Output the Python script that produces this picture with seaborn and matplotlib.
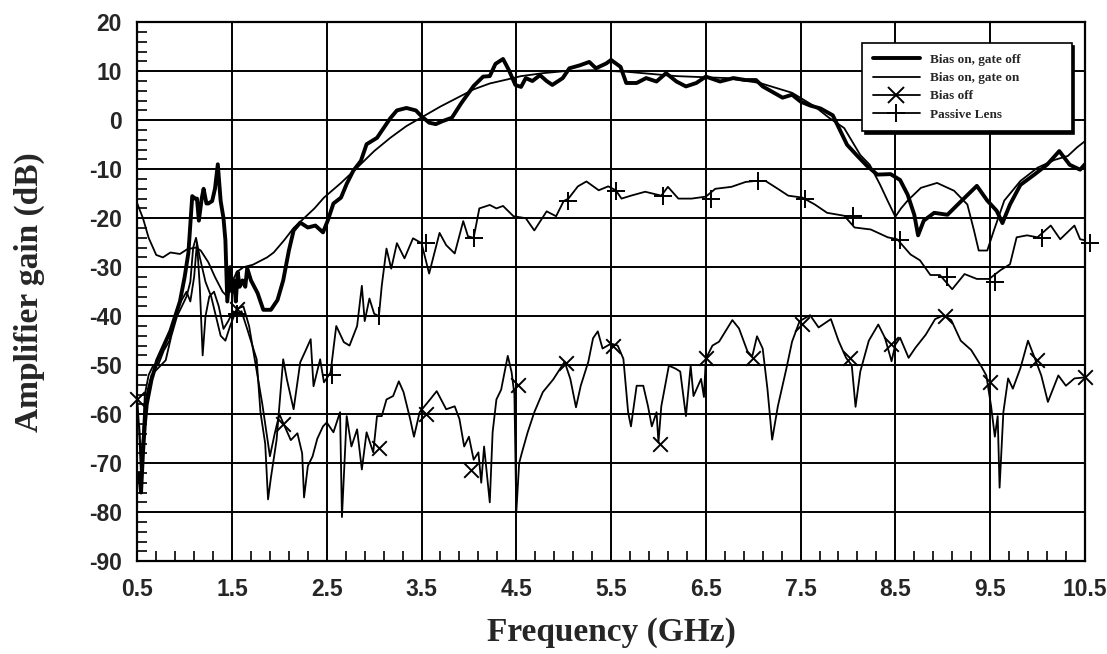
import numpy as np
import pandas as pd
import matplotlib.pyplot as plt
import seaborn as sns
from matplotlib.lines import Line2D
from matplotlib.ticker import FixedLocator

# Bias on, gate off (thick trace)
gate_off_f = [0.52, 0.54, 0.56, 0.58, 0.60, 0.65, 0.71, 0.78, 0.85, 0.90, 0.95, 1.00, 1.04, 1.08,
              1.11, 1.13, 1.15, 1.18, 1.20, 1.23, 1.25, 1.29, 1.32, 1.35, 1.38, 1.41, 1.43, 1.45,
              1.48, 1.50, 1.52, 1.54, 1.56, 1.58, 1.61, 1.64, 1.66, 1.70, 1.77, 1.83, 1.91, 1.98,
              2.04, 2.10, 2.15, 2.22, 2.30, 2.38, 2.46, 2.51, 2.57, 2.65, 2.71, 2.78, 2.86, 2.92,
              3.03, 3.10, 3.17, 3.24, 3.34, 3.44, 3.50, 3.58, 3.65, 3.72, 3.82, 3.92, 4.05, 4.15,
              4.22, 4.28, 4.36, 4.42, 4.49, 4.55, 4.60, 4.67, 4.75, 4.82, 4.88, 4.99, 5.06, 5.17,
              5.27, 5.34, 5.45, 5.50, 5.60, 5.66, 5.77, 5.87, 5.98, 6.08, 6.19, 6.29, 6.40, 6.50,
              6.65, 6.79, 6.92, 7.03, 7.10, 7.20, 7.31, 7.41, 7.50, 7.60, 7.71, 7.84, 7.92, 7.99,
              8.10, 8.20, 8.31, 8.45, 8.55, 8.63, 8.70, 8.74, 8.80, 8.91, 9.05, 9.18, 9.36, 9.47,
              9.57, 9.63, 9.71, 9.82, 9.96, 10.10, 10.23, 10.34, 10.45, 10.50]
gate_off_db = [-72, -76, -68, -62, -58, -53, -49, -46, -43, -40, -37, -32, -27, -15.5,
               -16, -16, -20.5, -16, -14, -17, -17, -16.5, -14, -9, -16.5, -20, -24.5, -37,
               -30, -35, -32.7, -37, -31, -34, -32.7, -34, -30.2, -32.7, -35.3, -38.7, -38.7, -36.7,
               -32.7, -26.6, -22.5, -20.9, -21.9, -21.5, -22.9, -20.5, -17, -15.8, -13, -10.3, -8.3, -4.9,
               -3.6, -1.6, 0.4, 2, 2.5, 2.0, 0.8, -0.5, -0.8, -0.2, 0.5, 3.5, 7, 8.9,
               9, 11.5, 12.5, 10.3, 7.2, 6.8, 8.6, 8, 9.2, 8, 7.2, 8.6, 10.6, 11.2,
               11.9, 10.6, 11.6, 12.3, 10.9, 7.6, 7.6, 8.6, 7.9, 9.6, 7.9, 6.9, 7.6, 8.9,
               7.9, 8.6, 8.2, 8.2, 6.9, 5.8, 4.6, 5.2, 3.8, 3.0, 2.4, 1, -2.2, -5,
               -7.3, -9.3, -11.1, -11, -12.2, -15.2, -19.3, -23.5, -20.5, -18.9, -19.3, -16.8, -13.4, -16.4,
               -18.5, -21, -17.2, -13.2, -11.2, -9.1, -6.3, -9.1, -10.1, -9]

# Bias on, gate on (thin smooth trace)
gate_on_f = [0.50, 0.56, 0.62, 0.70, 0.77, 0.85, 0.95, 1.03, 1.12, 1.17, 1.25, 1.32, 1.40, 1.45,
             1.50, 1.55, 1.62, 1.72, 1.87, 1.94, 2.05, 2.15, 2.26, 2.37, 2.47, 2.65, 2.82, 3.00,
             3.17, 3.34, 3.52, 3.70, 3.87, 4.05, 4.22, 4.40, 4.55, 4.78, 5.00, 5.30, 5.66, 6.19,
             6.72, 7.07, 7.41, 7.65, 7.80, 7.96, 8.13, 8.23, 8.34, 8.42, 8.50, 8.56, 8.63, 8.77,
             8.94, 9.12, 9.26, 9.33, 9.38, 9.47, 9.54, 9.65, 9.82, 10.00, 10.18, 10.32, 10.42, 10.50]
gate_on_db = [-17, -20, -24, -27.5, -28, -27, -27.3, -26.3, -26, -26.6, -29, -32, -35, -36,
              -33, -31, -30, -29.5, -28, -27, -24.5, -22, -20, -18, -15.8, -12.8, -9.7, -6.3,
              -3.6, -1.2, 0.8, 2.8, 4.5, 6.3, 7.5, 8.3, 9, 9.6, 10, 10.2, 9.9, 9,
              8.6, 7.6, 5.6, 2.8, 0.5, -1.6, -7.1, -9.1, -13.2, -16.5, -19.7, -18, -16.4, -13.8,
              -12.8, -14.4, -17.2, -22.5, -26.6, -26.6, -22.5, -16.4, -12.4, -9.7, -8.1, -7.3, -5.5, -4.3]

# Bias off trace and its markers
bias_off_f = [0.50, 0.52, 0.54, 0.56, 0.58, 0.61, 0.65, 0.70, 0.75, 0.80, 0.86, 0.92, 0.97, 1.02,
              1.06, 1.09, 1.12, 1.16, 1.22, 1.28, 1.33, 1.38, 1.43, 1.48, 1.55, 1.62, 1.68, 1.75,
              1.82, 1.90, 1.95, 2.00, 2.04, 2.12, 2.19, 2.24, 2.26, 2.30, 2.35, 2.40, 2.46, 2.50,
              2.57, 2.64, 2.66, 2.71, 2.76, 2.82, 2.87, 2.92, 2.99, 3.03, 3.08, 3.13, 3.20, 3.26,
              3.31, 3.38, 3.42, 3.48, 3.59, 3.66, 3.76, 3.85, 3.90, 3.95, 4.00, 4.05, 4.10, 4.13,
              4.16, 4.22, 4.25, 4.29, 4.34, 4.41, 4.45, 4.48, 4.50, 4.53, 4.56, 4.62, 4.69, 4.78,
              4.89, 5.01, 5.07, 5.13, 5.18, 5.26, 5.31, 5.36, 5.41, 5.50, 5.57, 5.63, 5.68, 5.71,
              5.77, 5.84, 5.89, 5.93, 5.98, 6.00, 6.03, 6.11, 6.18, 6.23, 6.29, 6.34, 6.37, 6.45,
              6.48, 6.50, 6.57, 6.64, 6.78, 6.85, 6.94, 6.99, 7.04, 7.10, 7.15, 7.20, 7.26, 7.35,
              7.41, 7.49, 7.60, 7.69, 7.82, 7.90, 7.98, 8.04, 8.08, 8.13, 8.22, 8.32, 8.39, 8.46,
              8.50, 8.55, 8.64, 8.71, 8.82, 8.92, 9.01, 9.09, 9.19, 9.30, 9.40, 9.46, 9.51, 9.55,
              9.58, 9.60, 9.64, 9.69, 9.74, 9.82, 9.90, 9.97, 10.04, 10.11, 10.22, 10.30, 10.39, 10.50]
bias_off_db = [-57, -63, -73, -66, -58, -55, -52, -51, -50, -49, -44, -40, -38, -36,
               -33, -26, -24, -28, -33, -36, -40, -44, -45, -42, -38.5, -38, -42, -50,
               -58, -68.6, -64, -60, -61.8, -65.3, -63.9, -68, -77, -70.6, -68.6, -65, -62.5, -61.7,
               -63.7, -59.6, -81, -60.4, -66.6, -63.1, -71.3, -63.7, -67.8, -60.4, -60.4, -57, -56.3, -53.3,
               -55.5, -61, -64.6, -59.6, -57, -55.3, -59, -58.4, -61, -66.6, -64.6, -69.3, -67.8, -74,
               -66.6, -78, -63.7, -57, -55, -48.1, -51.4, -56, -80, -70, -67.8, -63.7, -59.6, -55.5,
               -52.9, -49.3, -52.8, -58.6, -54.2, -49.3, -44.5, -43.1, -46.6, -45.6, -46, -48.7, -59.6, -62.5,
               -54.2, -54.2, -58.4, -62.5, -59.6, -65.8, -58.4, -50.1, -50.7, -51.3, -60.4, -50.1, -56.3, -52.8,
               -56.5, -48.7, -46, -45.2, -40.8, -42.5, -47.2, -48.2, -44.1, -46.6, -54.8, -65.2, -58.4, -50.7,
               -45.2, -41, -39.8, -42.3, -40.6, -45, -48.5, -50, -58.5, -51.3, -45, -41.7, -44.4, -49.2,
               -45.8, -44.4, -48.5, -46.5, -43.8, -40.6, -39.8, -40.8, -45, -46.9, -50, -52.1, -58.3, -64.6,
               -60.4, -75, -59.6, -52.7, -54.8, -50.6, -45, -48.5, -52.1, -57.5, -52.1, -54.2, -52.7, -52.5]
bias_off_mark_f = [0.50, 1.55, 2.04, 3.05, 3.55, 4.02, 4.52, 5.02, 5.52, 6.02, 6.50, 7.00,
                   7.52, 8.02, 8.45, 9.02, 9.50, 10.00, 10.50]
bias_off_mark_db = [-57, -38.5, -62, -67, -60, -71.5, -54, -49.5, -46, -66, -48.5, -48.5,
                    -41.5, -48.5, -45.6, -40, -53.5, -49, -52.5]

# Passive lens trace and its markers
passive_f = [0.52, 0.54, 0.56, 0.58, 0.62, 0.67, 0.72, 0.78, 0.84, 0.90, 0.96, 1.02, 1.06, 1.10,
             1.13, 1.16, 1.19, 1.22, 1.26, 1.31, 1.36, 1.41, 1.46, 1.51, 1.55, 1.60, 1.66, 1.76,
             1.80, 1.85, 1.88, 1.91, 1.97, 2.04, 2.08, 2.15, 2.22, 2.27, 2.33, 2.36, 2.43, 2.47,
             2.54, 2.57, 2.60, 2.68, 2.74, 2.82, 2.87, 2.90, 2.95, 3.00, 3.05, 3.08, 3.13, 3.18,
             3.24, 3.32, 3.41, 3.50, 3.58, 3.69, 3.76, 3.85, 3.94, 3.99, 4.05, 4.11, 4.22, 4.29,
             4.36, 4.47, 4.60, 4.69, 4.82, 4.92, 5.00, 5.05, 5.15, 5.24, 5.37, 5.47, 5.55, 5.61,
             5.71, 5.86, 6.03, 6.10, 6.21, 6.35, 6.50, 6.60, 6.77, 6.92, 7.02, 7.13, 7.26, 7.37,
             7.52, 7.65, 7.78, 7.96, 8.07, 8.24, 8.42, 8.52, 8.66, 8.76, 8.87, 8.97, 9.10, 9.23,
             9.36, 9.49, 9.61, 9.71, 9.78, 9.89, 10.00, 10.14, 10.24, 10.39, 10.45, 10.50]
passive_db = [-62, -70, -64, -56, -52, -50, -50, -47, -45, -40, -37, -35, -37, -32,
              -25, -34, -48, -40, -36, -35, -38, -42.6, -41, -39, -39.5, -39, -42.6, -48.8,
              -59.6, -66, -77.4, -73, -65.3, -48.8, -53, -59, -49.4, -47.3, -44.7, -54.3, -48.8, -53.5,
              -51.5, -46.7, -42, -45.3, -46, -42, -33.8, -41, -36.4, -39.5, -40, -33.8, -26.2, -30.3,
              -25.1, -28.2, -24.1, -25.1, -31.3, -23, -25.5, -27.2, -20.6, -23.7, -24, -18, -17.3, -18,
              -17.5, -19.6, -20, -22.5, -18.6, -19.6, -16.5, -16, -13.5, -12.5, -14.3, -13.5, -14.3, -16,
              -15.4, -14.6, -15.4, -13.6, -16, -16, -15.6, -14, -13.6, -12.6, -12.4, -12.4, -14, -15.4,
              -15.8, -17.2, -18.9, -19.5, -21.9, -22.3, -23.9, -24.3, -27.4, -28.6, -31.6, -31.6, -34.5, -31.4,
              -32.4, -32.4, -30.6, -29.4, -23.9, -23.5, -23.9, -21.5, -24.3, -21.5, -24.3, -24.5]
passive_mark_f = [1.55, 2.55, 3.05, 3.55, 4.05, 5.05, 5.55, 6.05, 6.55, 7.05, 7.55, 8.05,
                  8.55, 9.05, 9.55, 10.05, 10.55]
passive_mark_db = [-39.5, -52, -40, -25, -24, -16.5, -14.5, -15.5, -16, -12.5, -16, -19.5,
                   -24.5, -32, -33, -24, -25]

x_ticks = [0.5, 1.5, 2.5, 3.5, 4.5, 5.5, 6.5, 7.5, 8.5, 9.5, 10.5]
y_ticks = [-90, -80, -70, -60, -50, -40, -30, -20, -10, 0, 10, 20]
legend_labels = ['Bias on, gate off', 'Bias on, gate on', 'Bias off', 'Passive Lens']

sns.set_style('white')
plt.rcParams['font.family'] = ['Liberation Sans', 'DejaVu Sans']
plt.rcParams['axes.unicode_minus'] = False

fig = plt.figure(figsize=(11.07, 6.54), dpi=100)
ax = fig.add_axes([0.124, 0.142, 0.856, 0.824])

sns.lineplot(x=gate_on_f, y=gate_on_db, ax=ax, color='black', linewidth=1.3, sort=False)
sns.lineplot(x=passive_f, y=passive_db, ax=ax, color='black', linewidth=1.3, sort=False)
sns.lineplot(x=bias_off_f, y=bias_off_db, ax=ax, color='black', linewidth=1.3, sort=False)
sns.lineplot(x=gate_off_f, y=gate_off_db, ax=ax, color='black', linewidth=2.8, sort=False)

sns.scatterplot(x=bias_off_mark_f, y=bias_off_mark_db, ax=ax, marker='x', color='black',
                s=110, linewidth=1.4, clip_on=False, zorder=5)
sns.scatterplot(x=passive_mark_f, y=passive_mark_db, ax=ax, marker='+', color='black',
                s=160, linewidth=1.4, clip_on=False, zorder=5)

ax.set_xlim(0.5, 10.5)
ax.set_ylim(-90, 20)
ax.set_xticks(x_ticks)
ax.set_xticklabels([f'{t:g}' for t in x_ticks])
ax.set_yticks(y_ticks)
ax.xaxis.set_minor_locator(FixedLocator(np.arange(0.5, 10.51, 0.2)))
ax.yaxis.set_minor_locator(FixedLocator(np.arange(-90, 20.1, 2)))
ax.grid(True, which='major', color='black', linewidth=1.4)
ax.tick_params(axis='x', which='major', length=0, labelsize=16.5, pad=12)
ax.tick_params(axis='y', which='major', length=0, labelsize=16.5, pad=11)
ax.tick_params(which='minor', direction='in', length=7, width=1.2, color='black',
               left=True, bottom=True, right=False, top=False)
for lbl in ax.get_xticklabels() + ax.get_yticklabels():
    lbl.set_fontweight('bold')
for s in ax.spines.values():
    s.set_color('black')
    s.set_linewidth(1.6)

serif = ['Liberation Serif', 'DejaVu Serif']
ax.set_xlabel('Frequency (GHz)', family=serif, fontweight='bold', fontsize=24)
ax.set_ylabel('Amplifier gain (dB)', family=serif, fontweight='bold', fontsize=24)
ax.xaxis.set_label_coords(0.5, -0.104)
ax.yaxis.set_label_coords(-0.097, 0.5)

handles = [Line2D([], [], color='black', linewidth=2.8),
           Line2D([], [], color='black', linewidth=1.3),
           Line2D([], [], color='black', linewidth=1.3, marker='x', markersize=11, markeredgewidth=1.4),
           Line2D([], [], color='black', linewidth=1.3, marker='+', markersize=13, markeredgewidth=1.4)]
leg = ax.legend(handles, legend_labels, loc='upper left', bbox_to_anchor=(0.765, 0.0, 0.221, 0.961),
                mode='expand', borderaxespad=0,
                prop={'family': serif, 'weight': 'bold', 'size': 9.5}, frameon=True,
                fancybox=False, edgecolor='black', framealpha=1, handlelength=3.6,
                labelspacing=0.45, borderpad=0.8, handletextpad=0.75,
                shadow={'color': 'black', 'alpha': 1, 'ox': 2, 'oy': -2})
leg.get_frame().set_linewidth(1.2)

fig.savefig('out.png', dpi=100)
